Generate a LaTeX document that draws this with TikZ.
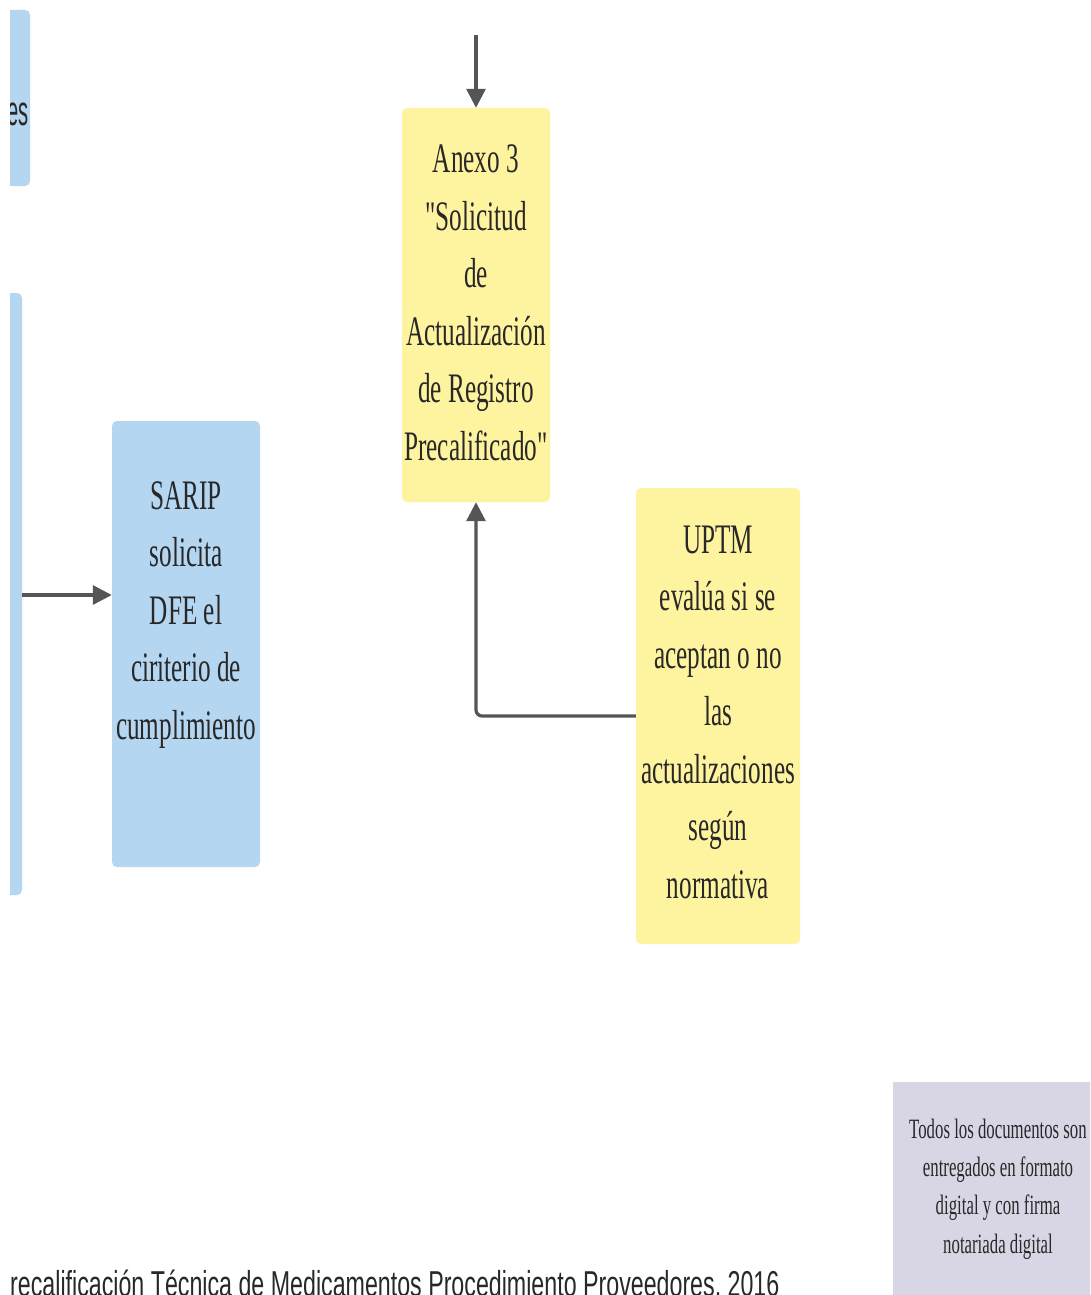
\documentclass[tikz,border=0pt]{standalone}
\usepackage{fontspec}
\usetikzlibrary{arrows.meta}
\newfontfamily\boxfont[FakeStretch=0.6]{Liberation Serif}
\newfontfamily\capfont[FakeStretch=0.645]{Liberation Sans}
\newfontfamily\narrowfont[FakeStretch=0.48]{Liberation Sans}
\definecolor{boxblue}{RGB}{180,214,240}
\definecolor{boxyellow}{RGB}{254,243,158}
\definecolor{notegray}{RGB}{216,214,229}
\definecolor{linkgray}{RGB}{85,85,85}
\definecolor{inkdark}{RGB}{40,40,40}
\tikzset{
  card/.style={draw=none, rounded corners=5pt, inner sep=0pt},
  bluecard/.style={card, fill=boxblue},
  yellowcard/.style={card, fill=boxyellow},
  notecard/.style={card, rounded corners=0pt, fill=notegray},
  label/.style={align=center, inner sep=0pt, text=inkdark, font=\boxfont\fontsize{42}{57.5}\selectfont},
  notelabel/.style={align=center, inner sep=0pt, text=inkdark, font=\boxfont\fontsize{28}{38.3}\selectfont},
  link/.style={draw=linkgray, line width=3.2pt, rounded corners=6pt, -{Triangle[length=19pt,width=19pt]}}
}
\begin{document}
\begin{tikzpicture}[x=1pt,y=-1pt]
\useasboundingbox (0,0) rectangle (1090,1295);
\fill[white] (0,0) rectangle (1090,1295);
\clip (0,0) rectangle (1090,1295);

% boxes cut off at the left edge of the visible area
\begin{scope}
\clip (10,0) rectangle (1090,1295);
\path[bluecard] (-160,10) rectangle (30,186);
\node[anchor=east, inner sep=0pt, text=inkdark, font=\narrowfont\fontsize{42}{50}\selectfont] (esword) at (29,114) {es};
\path[bluecard] (-160,293) rectangle (22,895);
\end{scope}
\coordinate (leftout) at (22,595);

% SARIP box
\node[bluecard, minimum width=148pt, minimum height=446pt] (sarip) at (186,644) {};
\node[label] (sariptext) at (186,615) {SARIP\\solicita\\DFE el\\ciriterio de\\cumplimiento};

% Anexo 3 box
\node[yellowcard, minimum width=148pt, minimum height=394pt] (anexo) at (476,305) {};
\node[label] (anexotext) at (476,303) {Anexo 3\\"Solicitud\\de\\Actualización\\de Registro\\Precalificado"};
\coordinate (topin) at (476,35);

% UPTM box
\node[yellowcard, minimum width=164pt, minimum height=456pt] (uptm) at (718,716) {};
\node[label] (uptmtext) at (718,712) {UPTM\\evalúa si se\\aceptan o no\\las\\actualizaciones\\según\\normativa};

% note box
\node[notecard, minimum width=220pt, minimum height=240pt] (note) at (1003,1202) {};
\node[notelabel] (notetext) at (998,1189) {Todos los documentos son\\entregados en formato\\digital y con firma\\notariada digital};

% source caption, running off the bottom edge
\node[anchor=base west, inner sep=0pt, text=inkdark, font=\capfont\fontsize{36}{40}\selectfont] (caption) at (10,1296) {recalificación Técnica de Medicamentos Procedimiento Proveedores, 2016};

% connectors
\draw[link] (leftout) -- (sarip.west |- leftout);
\draw[link] (topin) -- (anexo.north);
\draw[link] (uptm.west) -| (anexo.south);
\end{tikzpicture}
\end{document}
